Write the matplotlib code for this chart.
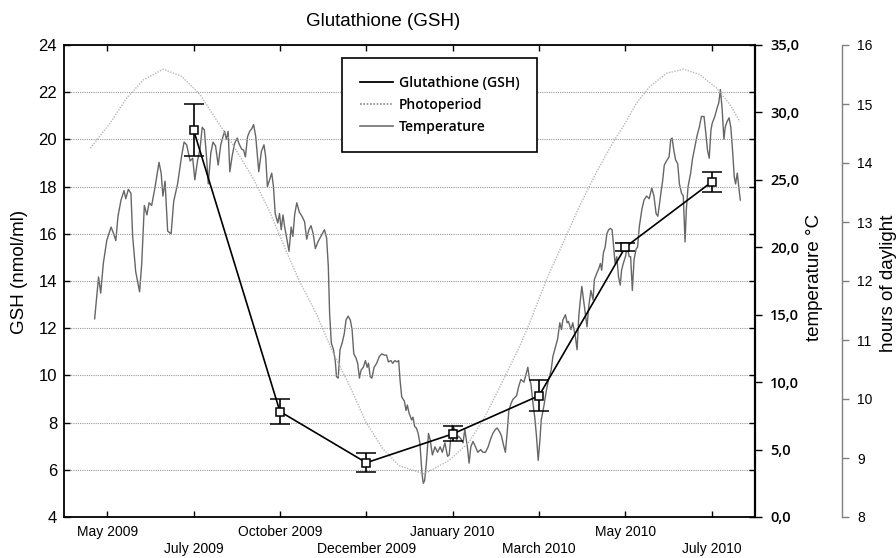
import numpy as np
import matplotlib
matplotlib.use("Agg")
import matplotlib.pyplot as plt
from matplotlib.lines import Line2D

plt.rcParams['font.family'] = ['Liberation Sans', 'DejaVu Sans']

# x unit: months counted from the first tick (May 2009)
tick_months = [0, 2, 4, 6, 8, 10, 12, 14]
tick_labels = ['May 2009', '\nJuly 2009', 'October 2009', '\nDecember 2009',
               'January 2010', '\nMarch 2010', 'May 2010', '\nJuly 2010']

# glutathione samples (nmol/ml), mean and error
gsh_months = [2, 4, 6, 8, 10, 12, 14]
gsh_mean = [20.4, 8.47, 6.3, 7.52, 9.14, 15.44, 18.2]
gsh_err = [1.1, 0.55, 0.4, 0.32, 0.65, 0.16, 0.43]

# daily air temperature (deg C)
temp_month = [
    -0.29, -0.20, -0.15, -0.09, -0.01, 0.09, 0.15, 0.20, 0.25, 0.32,
    0.39, 0.43, 0.49, 0.55, 0.59, 0.66, 0.75, 0.80, 0.86, 0.92,
    0.97, 1.03, 1.11, 1.20, 1.25, 1.29, 1.34, 1.40, 1.48, 1.54,
    1.63, 1.72, 1.78, 1.84, 1.92, 1.98, 2.03,
    2.09, 2.15, 2.20, 2.25, 2.30, 2.34, 2.40, 2.45, 2.51, 2.57,
    2.63, 2.68, 2.72, 2.76, 2.80, 2.84, 2.89, 2.95, 3.01, 3.05,
    3.11, 3.16, 3.20, 3.25, 3.30, 3.35, 3.39, 3.44, 3.51, 3.57,
    3.63, 3.67, 3.71, 3.76, 3.81, 3.85, 3.89, 3.95, 3.99, 4.03,
    4.07, 4.11, 4.15, 4.21, 4.26, 4.30, 4.34, 4.39, 4.45, 4.51,
    4.57, 4.62, 4.67, 4.72, 4.77,
    4.82, 4.88, 4.93, 4.98, 5.03, 5.08, 5.12, 5.15, 5.19, 5.24,
    5.28, 5.31, 5.35, 5.39, 5.44, 5.49, 5.53, 5.58, 5.63, 5.67,
    5.71, 5.76, 5.80, 5.84, 5.88, 5.93, 5.98, 6.02, 6.05, 6.09,
    6.13, 6.18, 6.24, 6.30, 6.36, 6.42, 6.47, 6.51, 6.57, 6.61,
    6.66, 6.71, 6.75, 6.78, 6.82, 6.88, 6.92, 6.95, 6.99, 7.05,
    7.08, 7.12, 7.16, 7.20, 7.24, 7.29, 7.32,
    7.35, 7.39, 7.44, 7.48, 7.53, 7.59, 7.65, 7.71, 7.76, 7.82,
    7.88, 7.92, 7.95, 7.99, 8.05, 8.09, 8.13, 8.19, 8.24, 8.28,
    8.34, 8.38, 8.42, 8.47, 8.53, 8.58, 8.65, 8.70, 8.76, 8.82,
    8.88, 8.93, 8.99, 9.03, 9.09, 9.13, 9.18, 9.22, 9.26, 9.30,
    9.35, 9.39,
    9.48, 9.53, 9.58, 9.65, 9.69, 9.74, 9.78, 9.81, 9.86, 9.90,
    9.94, 9.98, 10.02, 10.05, 10.11, 10.17, 10.22, 10.28, 10.32, 10.38,
    10.43, 10.48, 10.52, 10.55, 10.61, 10.65, 10.68, 10.74, 10.78, 10.84,
    10.88, 10.92, 10.95, 10.99, 11.03, 11.07, 11.11, 11.15, 11.20, 11.25,
    11.28, 11.34, 11.38, 11.42, 11.45, 11.49, 11.53, 11.57, 11.61, 11.65,
    11.69, 11.72, 11.76, 11.80, 11.84, 11.88, 11.91, 11.95, 12.00, 12.04,
    12.09, 12.12, 12.16, 12.20, 12.25,
    12.28, 12.32, 12.38, 12.43, 12.49, 12.55, 12.61, 12.66, 12.71, 12.75,
    12.78, 12.82, 12.86, 12.90, 12.95, 13.01, 13.05, 13.08, 13.12, 13.16,
    13.21, 13.25, 13.30, 13.34, 13.38, 13.41, 13.45, 13.51, 13.55, 13.61,
    13.66, 13.71, 13.76, 13.82, 13.86, 13.90, 13.94, 13.98, 14.01, 14.07,
    14.12, 14.16, 14.20, 14.24, 14.28, 14.31, 14.35, 14.40, 14.44, 14.48,
    14.52, 14.55, 14.59, 14.63, 14.66,
]
temp_c = [
    14.7, 17.8, 16.6, 18.8, 20.5, 21.5, 21.0, 20.5, 22.3, 23.5,
    24.2, 23.6, 24.3, 24.0, 20.8, 18.2, 16.7, 18.8, 23.1, 22.4,
    23.3, 23.1, 24.5, 26.3, 25.5, 23.8, 24.9, 21.2, 21.0, 23.4,
    24.7, 26.7, 27.8, 27.6, 26.4, 26.6, 25.0,
    26.4, 27.3, 28.9, 28.7, 26.7, 24.7, 27.0, 27.8, 27.5, 26.1,
    27.6, 28.2, 28.6, 28.0, 28.6, 25.6, 26.7, 27.7, 28.1, 27.7,
    27.3, 27.2, 26.7, 28.2, 28.6, 28.8, 29.1, 28.2, 25.6, 27.1,
    27.6, 26.7, 24.5, 25.0, 25.5, 24.5, 22.5, 21.8, 22.5, 21.3,
    22.4, 21.5, 20.8, 19.7, 21.5, 20.8, 22.4, 23.3, 22.6, 22.3,
    21.9, 20.6, 21.3, 21.6, 21.0,
    19.9, 20.4, 20.7, 21.0, 21.3, 20.7, 18.6, 15.1, 12.9, 12.4,
    11.6, 10.4, 10.3, 12.4, 12.9, 13.6, 14.6, 14.9, 14.6, 13.9,
    12.1, 11.8, 11.4, 10.3, 10.9, 11.1, 11.6, 11.1, 11.4, 10.4,
    10.3, 11.1, 11.4, 11.9, 12.1, 12.0, 12.0, 11.5, 11.6, 11.4,
    11.6, 11.5, 11.6, 10.2, 8.9, 8.6, 7.9, 8.3, 7.7, 7.2,
    7.4, 6.7, 6.6, 6.2, 5.5, 3.2, 2.5,
    2.7, 4.0, 6.2, 5.7, 4.6, 5.2, 4.8, 5.2, 4.8, 5.5,
    4.5, 4.6, 5.7, 6.8, 6.5, 5.7, 6.0, 5.8, 5.5, 6.5,
    5.2, 4.0, 5.2, 5.6, 5.2, 4.8, 5.0, 4.8, 4.8, 5.2,
    5.8, 6.2, 6.5, 6.6, 6.3, 6.0, 5.3, 4.8, 6.2, 7.9,
    8.4, 8.7,
    9.0, 9.7, 10.2, 10.0, 10.5, 11.1, 10.2, 9.9, 8.4, 7.4,
    6.0, 4.2, 5.7, 7.2, 8.2, 9.4, 10.2, 10.9, 11.9, 12.6,
    13.2, 14.4, 13.9, 14.6, 15.0, 14.4, 14.5, 13.9, 14.4, 13.4,
    12.4, 14.9, 15.9, 17.1, 16.1, 15.1, 14.1, 15.6, 16.8, 16.1,
    17.6, 18.1, 18.4, 18.8, 18.3, 19.6, 20.0, 21.0, 21.3, 21.4,
    21.3, 20.3, 18.8, 19.3, 17.8, 17.2, 18.3, 18.8, 19.3, 20.0,
    19.3, 19.3, 16.8, 19.1, 19.9,
    20.0, 21.5, 22.8, 23.5, 23.8, 23.6, 24.4, 23.8, 22.5, 22.3,
    23.0, 24.0, 24.9, 26.1, 26.4, 26.7, 28.0, 28.1, 27.2, 26.5,
    26.2, 24.7, 24.0, 23.8, 20.4, 22.8, 24.5, 25.5, 26.5, 27.5,
    28.3, 28.9, 29.7, 29.7, 28.5, 27.2, 26.6, 28.7, 29.2, 29.7,
    30.3, 30.7, 31.7, 30.2, 28.0, 28.9, 29.3, 29.6, 28.9, 27.2,
    25.2, 24.7, 25.5, 24.3, 23.5,
]

# photoperiod (hours of daylight)
photo_month = [-0.39, 0.07, 0.45, 0.84, 1.30, 1.72, 2.15, 2.53, 2.91, 3.38,
               3.76, 4.15, 4.45, 4.84, 5.22, 5.61, 5.99, 6.38, 6.76, 7.34,
               7.92, 8.38, 8.76, 9.15, 9.53, 9.76, 10.18, 10.57, 10.95, 11.34,
               11.72, 11.95, 12.26, 12.57, 12.95, 13.34, 13.72, 14.11, 14.42, 14.65]
photo_h = [14.25, 14.68, 15.10, 15.41, 15.59, 15.47, 15.16, 14.73, 14.31, 13.74,
           13.18, 12.50, 12.00, 11.45, 10.80, 10.23, 9.61, 9.16, 8.87, 8.73,
           8.96, 9.27, 9.72, 10.29, 10.86, 11.25, 12.04, 12.67, 13.29, 13.86,
           14.36, 14.62, 15.02, 15.30, 15.52, 15.59, 15.50, 15.27, 14.99, 14.70]

gsh_ticks = np.arange(4, 25, 2)
temp_ticks = np.arange(0, 36, 5)
hour_ticks = np.arange(8, 17, 1)

W, H = 896, 558
fig = plt.figure(figsize=(W / 100, H / 100), dpi=100)
ax = fig.add_axes([64 / W, 41 / H, 691 / W, 472 / H])
ax_t = ax.twinx()
ax_h = ax.twinx()

ax_h.plot(photo_month, photo_h, color='#b8b8b8', lw=1.0, ls=(0, (1, 1)))
ax_t.plot(temp_month, temp_c, color='#666666', lw=1.0)
ax.errorbar(gsh_months, gsh_mean, yerr=gsh_err, fmt='-s', color='black',
            mfc='white', mec='black', ms=5.5, mew=1.1, lw=1.2,
            elinewidth=1.2, capsize=7, capthick=1.2)

ax.set_zorder(3)
ax.patch.set_visible(False)

ax.set_xlim(-1, 15)
ax.set_ylim(4, 24)
ax_t.set_ylim(0, 35)
ax_h.set_ylim(8, 16)

ax.set_xticks(tick_months, labels=tick_labels, fontsize=10)
ax.set_yticks(gsh_ticks, labels=[str(v) for v in gsh_ticks], fontsize=12)
ax_t.set_yticks(temp_ticks, labels=[f"{v:.1f}".replace('.', ',') for v in temp_ticks],
                fontsize=10.5, family='Open Sans', fontweight='semibold')
ax_h.set_yticks(hour_ticks, labels=[str(v) for v in hour_ticks],
                fontsize=10.5, family='Open Sans', fontweight='semibold')

ax.yaxis.grid(True, color='#9a9a9a', ls=(0, (1, 1)), lw=0.8)

ax.tick_params(axis='both', direction='in', length=4, width=1, top=True, right=True)
ax.tick_params(axis='x', pad=6)
ax.tick_params(axis='y', pad=5)
ax_t.tick_params(axis='y', direction='out', length=5, width=1, pad=6)
ax_h.tick_params(axis='y', direction='out', length=5, width=1, color='#808080', pad=6)

for s in ax.spines.values():
    s.set_linewidth(1.3)
    s.set_color('black')
for s in ['left', 'top', 'bottom']:
    ax_t.spines[s].set_visible(False)
    ax_h.spines[s].set_visible(False)
ax_t.spines['right'].set_linewidth(1.6)
ax_t.spines['right'].set_color('#222222')
ax_h.spines['right'].set_position(('axes', (842 - 64) / 691))
ax_h.spines['right'].set_color('#808080')
ax_h.spines['right'].set_linewidth(1.0)

handles = [Line2D([], [], color='black', lw=1.3),
           Line2D([], [], color='#8a8a8a', lw=1.2, ls=(0, (1, 1))),
           Line2D([], [], color='#6e6e6e', lw=1.2)]
leg = ax.legend(handles, ['Glutathione (GSH)', 'Photoperiod', 'Temperature'],
                loc='upper left', bbox_to_anchor=(0.402, 0.972), borderaxespad=0,
                fancybox=False, framealpha=1, edgecolor='black',
                borderpad=1.3, handlelength=2.4, handletextpad=0.4, labelspacing=0.55,
                prop={'family': 'Open Sans', 'weight': 'semibold', 'size': 10})
leg.get_frame().set_linewidth(1.2)

fig.text(383 / W, 1 - 22 / H, 'Glutathione (GSH)', ha='center', va='center', fontsize=13.5)
fig.text(20 / W, 1 - 272 / H, 'GSH (nmol/ml)', rotation=90, ha='center', va='center', fontsize=13.5)
fig.text(814 / W, 1 - 277 / H, 'temperature °C', rotation=90, ha='center', va='center', fontsize=13.5)
fig.text(888 / W, 1 - 283 / H, 'hours of daylight', rotation=90, ha='center', va='center', fontsize=13.5)

fig.savefig('out.png', dpi=100)
